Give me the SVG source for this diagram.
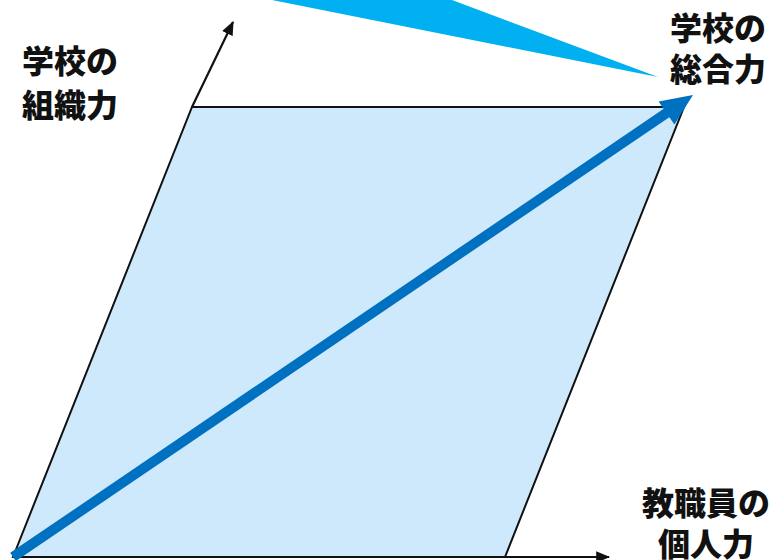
<svg xmlns="http://www.w3.org/2000/svg" width="777" height="560" viewBox="0 0 777 560">
<defs>
<style>
.lbl{font-family:"Noto Sans CJK JP","Noto Sans CJK SC",sans-serif;font-weight:900;font-size:32px;fill:#111;}
.ax{stroke:#111;stroke-width:2.2;fill:none;}
</style>
<marker id="ah2" viewBox="0 0 12 10" refX="11" refY="5" markerWidth="14" markerHeight="12" orient="auto" markerUnits="userSpaceOnUse">
<path d="M0,0 L12,5 L0,10 Z" fill="#111"/>
</marker>
</defs>
<rect width="777" height="560" fill="#fff"/>
<g id="callout">
<polygon points="272,0 452,0 658,77" fill="#00B0F0"/>
</g>
<g id="plane">
<polygon points="13,557 192,107 684,107 505,557" fill="#CDE9FB" stroke="#111" stroke-width="2"/>
</g>
<g id="connectors">
<line class="ax" x1="192" y1="107" x2="233" y2="22" marker-end="url(#ah2)"/>
<line class="ax" x1="13" y1="557" x2="609" y2="557" marker-end="url(#ah2)"/>
<line x1="13" y1="557" x2="668" y2="112" stroke="#0070C0" stroke-width="10"/>
<polygon points="693,95 674.4,124.6 658.6,101.4" fill="#0070C0"/>
</g>
<g id="label-org">
<text class="lbl" x="22" y="73">学校の</text>
<text class="lbl" x="22" y="117">組織力</text>
</g>
<g id="label-total">
<text class="lbl" x="670" y="40">学校の</text>
<text class="lbl" x="670" y="81">総合力</text>
</g>
<g id="label-indiv">
<text class="lbl" x="706" y="515" text-anchor="middle">教職員の</text>
<text class="lbl" x="706" y="556" text-anchor="middle">個人力</text>
</g>
</svg>
